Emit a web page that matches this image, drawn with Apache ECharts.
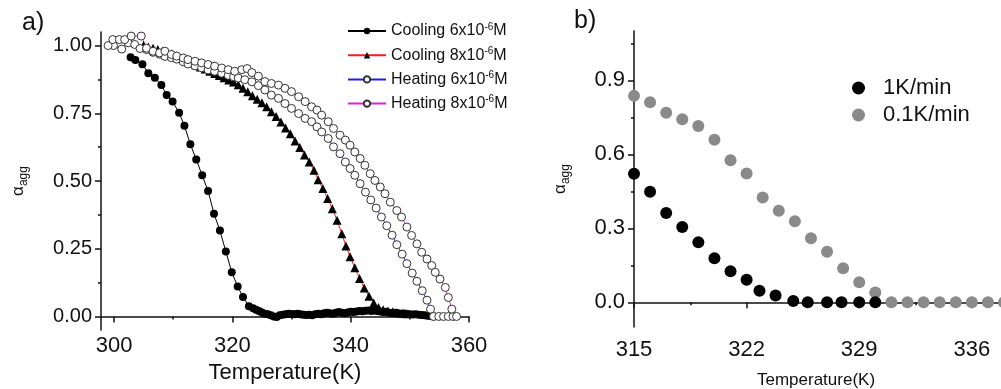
<!DOCTYPE html>
<html>
<head>
<meta charset="utf-8">
<script src="https://cdn.jsdelivr.net/npm/echarts@6/dist/echarts.min.js"></script>
<style>
  html, body { margin: 0; padding: 0; background: #fff; }
  #chart { width: 1001px; height: 389px; }
</style>
</head>
<body>
<div id="chart"></div>
<script>
// panel a: [temperature K, alpha_agg]
const cooling6 = [
  [302.8, 0.957], [303.6, 0.947], [304.8, 0.931], [305.8, 0.898], [306.9, 0.881],
  [308.0, 0.854], [308.9, 0.817], [309.9, 0.793], [311.0, 0.752], [311.9, 0.704],
  [312.9, 0.636], [313.9, 0.579], [314.9, 0.521], [315.9, 0.463], [316.9, 0.379],
  [317.9, 0.317], [318.9, 0.240], [319.9, 0.163], [320.9, 0.111], [321.8, 0.072],
  [322.8, 0.038], [323.5, 0.030], [324, 0.025], [324.5, 0.020], [325, 0.015],
  [325.5, 0.010], [326, 0.008], [326.5, 0.004], [327, 0.000], [327.5, -0.002],
  [328, 0.004], [328.5, 0.006], [329, 0.008], [329.5, 0.010], [330, 0.009],
  [330.5, 0.008], [331, 0.010], [331.5, 0.008], [332, 0.006], [332.5, 0.005],
  [333, 0.006], [333.5, 0.004], [334, 0.008], [334.5, 0.010], [335, 0.008],
  [335.5, 0.012], [336, 0.014], [336.5, 0.012], [337, 0.010], [337.5, 0.014],
  [338, 0.016], [338.5, 0.014], [339, 0.012], [339.5, 0.015], [340, 0.017],
  [340.5, 0.016], [341, 0.018], [341.5, 0.020], [342, 0.019], [342.5, 0.021],
  [343, 0.022], [343.5, 0.020], [344, 0.022], [344.5, 0.020], [345, 0.018],
  [345.5, 0.016], [346, 0.017], [346.5, 0.014], [347, 0.013], [347.5, 0.014],
  [348, 0.012], [348.5, 0.010], [349, 0.011], [349.5, 0.009], [350, 0.008],
  [350.5, 0.007], [351, 0.008], [351.5, 0.006], [352, 0.005], [352.5, 0.004],
  [353, 0.003], [353.5, 0.002], [354, 0.000]
]

const cooling8 = [
  [305.0, 1.000], [305.8, 0.995], [306.6, 0.990], [307.4, 0.985], [308.2, 0.980],
  [309.0, 0.975], [309.8, 0.970], [310.6, 0.962], [311.4, 0.953], [312.2, 0.945],
  [313.0, 0.937], [313.8, 0.929], [314.6, 0.921], [315.4, 0.913], [316.2, 0.905],
  [317.0, 0.897], [317.8, 0.889], [318.6, 0.881], [319.4, 0.873], [320.2, 0.865],
  [321.0, 0.855], [321.8, 0.842], [322.6, 0.829], [323.4, 0.815], [324.2, 0.802],
  [325.0, 0.789], [325.8, 0.774], [326.6, 0.756], [327.4, 0.738], [328.2, 0.718],
  [329.0, 0.696], [329.8, 0.674], [330.6, 0.648], [331.4, 0.624], [332.2, 0.596],
  [333.0, 0.570], [333.8, 0.540], [334.5, 0.505], [335.3, 0.472], [336.1, 0.435],
  [336.9, 0.398], [337.7, 0.355], [338.5, 0.305], [339.2, 0.260], [339.9, 0.220],
  [340.7, 0.180], [341.5, 0.140], [342.3, 0.105], [343.1, 0.075], [343.9, 0.050],
  [344.7, 0.033], [345.5, 0.025], [346.3, 0.020], [347.1, 0.017], [347.9, 0.014],
  [348.7, 0.012], [349.5, 0.010]
]

const heating6 = [
  [299.9, 1.000], [301.3, 0.987], [302.4, 1.010], [303.5, 1.004], [304.4, 0.989],
  [305.5, 0.985], [306.6, 0.975], [307.7, 0.968], [308.6, 0.960], [309.7, 0.955],
  [310.6, 0.950], [311.7, 0.940], [312.5, 0.932], [313.7, 0.925], [314.8, 0.918],
  [315.9, 0.910], [317.0, 0.905], [318.2, 0.898], [319.3, 0.890], [320.2, 0.885],
  [321.0, 0.880], [322.1, 0.874], [323.3, 0.866], [324.4, 0.852], [325.5, 0.836],
  [326.6, 0.817], [327.8, 0.805], [328.9, 0.786], [330.0, 0.768], [331.2, 0.749],
  [332.3, 0.731], [333.4, 0.719], [334.3, 0.700], [335.1, 0.681], [336.2, 0.657],
  [337.1, 0.626], [338.2, 0.601], [339.1, 0.570], [339.9, 0.546], [340.7, 0.521],
  [341.6, 0.490], [342.5, 0.459], [343.4, 0.430], [344.3, 0.400], [345.2, 0.367],
  [346.1, 0.335], [347.0, 0.300], [347.8, 0.265], [348.7, 0.230], [349.5, 0.195],
  [350.4, 0.160], [351.2, 0.130], [352.1, 0.095], [352.9, 0.060], [353.5, 0.027],
  [354.0, 0.000], [354.9, 0.000], [355.7, 0.000], [356.5, 0.000], [357.3, 0.000]
]

const heating8 = [
  [299.0, 1.000], [299.8, 1.022], [300.9, 1.022], [301.8, 1.022], [302.9, 1.035],
  [304.6, 1.035], [305.5, 0.990], [306.6, 0.979], [307.7, 0.973], [308.6, 0.979],
  [309.7, 0.967], [310.6, 0.961], [311.7, 0.954], [312.5, 0.948], [313.7, 0.942],
  [314.8, 0.936], [315.9, 0.930], [317.0, 0.924], [318.2, 0.917], [319.3, 0.911],
  [320.4, 0.905], [321.6, 0.911], [322.5, 0.915], [323.3, 0.900], [324.4, 0.887],
  [325.5, 0.867], [326.6, 0.860], [327.8, 0.854], [328.9, 0.842], [330.0, 0.830],
  [331.2, 0.811], [332.3, 0.793], [333.4, 0.774], [334.3, 0.762], [335.1, 0.743],
  [336.2, 0.719], [337.1, 0.694], [338.2, 0.669], [339.1, 0.651], [339.9, 0.632],
  [340.7, 0.607], [341.6, 0.583], [342.4, 0.558], [343.3, 0.527], [344.1, 0.502],
  [345.0, 0.478], [345.8, 0.453], [346.7, 0.422], [347.8, 0.391], [348.6, 0.367],
  [349.5, 0.330], [350.3, 0.299], [351.2, 0.268], [352.0, 0.237], [352.9, 0.212],
  [353.7, 0.188], [354.3, 0.163], [355.1, 0.138], [356.0, 0.107], [356.5, 0.070],
  [357.1, 0.027], [357.9, 0.000]
]

// panel b
const fastRate = [
  [315, 0.521], [316, 0.448], [317, 0.362], [318, 0.305], [319, 0.244], [320, 0.179],
  [321, 0.126], [322, 0.092], [322.8, 0.047], [323.8, 0.028], [324.9, 0.005],
  [325.8, 0], [327, 0], [327.9, 0], [329, 0], [330, 0]
]
const slowTemps = [315, 316, 317, 318, 319, 320, 321, 322, 323, 324, 325, 326,
  327, 328, 329, 330, 331, 332, 333, 334, 335, 336, 337, 338]
const slowAlpha = [0.837, 0.811, 0.769, 0.742, 0.715, 0.659, 0.576, 0.522, 0.425,
  0.371, 0.329, 0.260, 0.205, 0.138, 0.081, 0.040, 0, 0, 0, 0, 0, 0, 0, 0]

const aTempTicks = [300, 320, 340, 360]
const aTempMinor = [310, 330, 350]
const aAlphaTicks = [0, 0.25, 0.5, 0.75, 1]
const aAlphaMinor = [0.125, 0.375, 0.625, 0.875]
const bTempTicks = [315, 322, 329, 336]
const bTempMinor = [318.5, 325.5, 332.5]
const bAlphaTicks = [0, 0.3, 0.6, 0.9]
const bAlphaMinor = [0.15, 0.45, 0.75, 1.05]

const legendNames = ["Cooling 6x10-6M", "Cooling 8x10-6M", "Heating 6x10-6M", "Heating 8x10-6M"]

const FONT = "'Liberation Sans', Arial, sans-serif"
const INK = "#111"

function mainAxis(gridIndex, min, max, ticks, fontSize, margin, fmt) {
  return {
    type: "value", gridIndex, min, max,
    axisLine: { lineStyle: { color: INK, width: 1.5 } },
    axisTick: { inside: false, length: 6, customValues: ticks, lineStyle: { color: INK, width: 1.5 } },
    axisLabel: { customValues: ticks, color: INK, fontSize, fontFamily: FONT, margin, formatter: fmt },
    splitLine: { show: false },
  }
}

function minorAxis(gridIndex, min, max, ticks, position) {
  return {
    type: "value", gridIndex, min, max, position,
    axisLine: { show: false },
    axisTick: { inside: false, length: 3, customValues: ticks, lineStyle: { color: INK, width: 1.5 } },
    axisLabel: { show: false },
    splitLine: { show: false },
  }
}

const alphaName = {
  a: { fontSize: 17, fontFamily: FONT, color: INK, lineHeight: 24, verticalAlign: "middle" },
  s: { fontSize: 12, fontFamily: FONT, color: INK, lineHeight: 24, verticalAlign: "bottom" },
}

const chart = echarts.init(document.getElementById("chart"))

const xA = mainAxis(0, 297.8, 360, aTempTicks, 22, 5, (v) => String(v))
xA.name = "Temperature(K)"
xA.nameLocation = "middle"
xA.nameGap = 29
xA.nameTextStyle = { fontSize: 22, fontFamily: FONT, color: INK }

const yA = mainAxis(0, -0.05, 1.05, aAlphaTicks, 20, 9, (v) => v.toFixed(2))
yA.name = "{a|α}{s|agg}"
yA.nameLocation = "middle"
yA.nameRotate = 90
yA.nameGap = 71
yA.nameTextStyle = { rich: alphaName }

const xB = mainAxis(1, 315, 338, bTempTicks, 22, 12, (v) => String(v))
xB.name = "Temperature(K)"
xB.nameLocation = "middle"
xB.nameGap = 45
xB.nameTextStyle = { fontSize: 17, fontFamily: FONT, color: INK, padding: [0, 0, 0, -6] }

const yB = mainAxis(1, -0.1, 1.1, bAlphaTicks, 22, 9, (v) => v.toFixed(1))
yB.name = "{a|α}{s|agg}"
yB.nameLocation = "middle"
yB.nameRotate = 90
yB.nameGap = 62
yB.nameTextStyle = { rich: alphaName }

const legendRich = {
  t: { fontSize: 16, fontFamily: FONT, color: INK, lineHeight: 18 },
  sup: { fontSize: 10, fontFamily: FONT, color: INK, lineHeight: 18, verticalAlign: "top" },
}

chart.setOption({
  animation: false,
  backgroundColor: "#fff",
  grid: [
    { left: 101, top: 32, width: 368, height: 298, outerBoundsMode: "none" },
    { left: 634, top: 31, width: 370, height: 296, outerBoundsMode: "none" },
  ],
  xAxis: [xA, minorAxis(0, 297.8, 360, aTempMinor, "bottom"), xB, minorAxis(1, 315, 338, bTempMinor, "bottom")],
  yAxis: [yA, minorAxis(0, -0.05, 1.05, aAlphaMinor, "left"), yB, minorAxis(1, -0.1, 1.1, bAlphaMinor, "left")],
  legend: [
    {
      data: legendNames,
      orient: "vertical",
      left: 342,
      top: 17,
      itemWidth: 38,
      itemHeight: 8,
      itemGap: 7.2,
      formatter: (name) => {
        const parts = name.split("10-6")
        return `{t|${parts[0]}10}{sup|-6}{t|${parts[1]}}`
      },
      textStyle: { rich: legendRich },
    },
    {
      data: ["1K/min", "0.1K/min"],
      orient: "vertical",
      left: 847,
      top: 72,
      icon: "circle",
      itemWidth: 39,
      itemHeight: 13,
      itemGap: 5,
      textStyle: { fontSize: 22, fontFamily: FONT, color: INK, lineHeight: 22 },
    },
  ],
  graphic: [
    { type: "text", left: 22, top: 11, style: { text: "a)", fontSize: 25, fontFamily: FONT, fill: INK } },
    { type: "text", left: 574, top: 9, style: { text: "b)", fontSize: 25, fontFamily: FONT, fill: INK } },
  ],
  series: [
    {
      name: legendNames[0], type: "line", xAxisIndex: 0, yAxisIndex: 0,
      data: cooling6, symbol: "circle", symbolSize: 8,
      itemStyle: { color: "#000" }, lineStyle: { color: "#000", width: 1 },
    },
    {
      name: legendNames[1], type: "line", xAxisIndex: 0, yAxisIndex: 0,
      data: cooling8, symbol: "triangle", symbolSize: 9,
      itemStyle: { color: "#000" }, lineStyle: { color: "#ff1a1a", width: 1 },
    },
    {
      name: legendNames[2], type: "line", xAxisIndex: 0, yAxisIndex: 0,
      data: heating6, symbol: "circle", symbolSize: 8,
      itemStyle: { color: "#fff", borderColor: "#333", borderWidth: 1 },
      lineStyle: { color: "#1f1fe0", width: 1 },
    },
    {
      name: legendNames[3], type: "line", xAxisIndex: 0, yAxisIndex: 0,
      data: heating8, symbol: "circle", symbolSize: 8,
      itemStyle: { color: "#fff", borderColor: "#333", borderWidth: 1 },
      lineStyle: { color: "#e020e0", width: 1 },
    },
    {
      name: "0.1K/min", type: "scatter", xAxisIndex: 2, yAxisIndex: 2,
      data: slowTemps.map((t, i) => [t, slowAlpha[i]]),
      symbolSize: 12, itemStyle: { color: "#8a8a8a", opacity: 1 },
    },
    {
      name: "1K/min", type: "scatter", xAxisIndex: 2, yAxisIndex: 2, z: 3,
      data: fastRate, symbolSize: 12, itemStyle: { color: "#000", opacity: 1 },
    },
  ],
})
</script>
</body>
</html>
